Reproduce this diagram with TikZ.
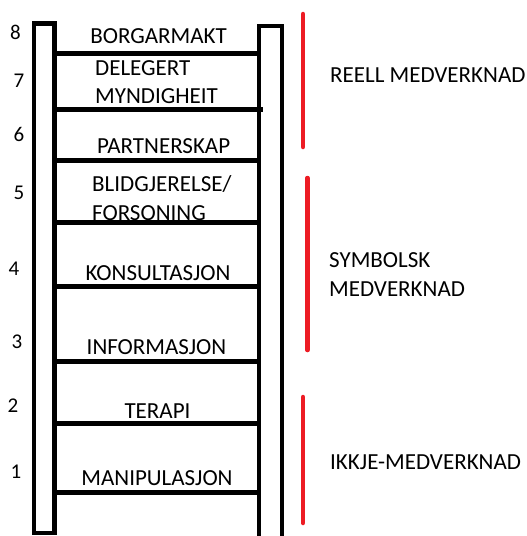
\documentclass[tikz,border=0pt]{standalone}
\usepackage{fontspec}
\setmainfont{Carlito}
\definecolor{ladderred}{RGB}{237,28,36}
\begin{document}
\begin{tikzpicture}[x=1pt,y=-1pt,
  rail/.style={line width=4.8pt, line join=miter},
  rung/.style={line width=5pt},
  redbar/.style={draw=ladderred, line width=4.5pt, line cap=round},
  lbl/.style={font=\fontsize{23}{27}\selectfont, inner sep=0pt, anchor=base},
  lblw/.style={font=\fontsize{23}{27}\selectfont, inner sep=0pt, anchor=base west},
  num/.style={font=\fontsize{21}{25}\selectfont, inner sep=0pt, anchor=base}]
\useasboundingbox (0,0) rectangle (527,536);
% rails
\draw[rail] (34,23.5) rectangle (54.5,533);
\draw[rail] (259,545) -- (259,26) -- (282,26) -- (282,545);
% rungs
\foreach \y in {53.5,160.5,222,286.5,361,423,492.5}
  \draw[rung] (56.8,\y) -- (256.6,\y);
\draw[rung] (56.8,109) -- (262.5,109);
% rung labels
\node[lbl]  (borgar) at (158.5,43) {BORGARMAKT};
\node[lblw] (deleg)  at (95,75)    {DELEGERT};
\node[lblw] (mynd)   at (95,103)   {MYNDIGHEIT};
\node[lblw] (partn)  at (97,153)   {PARTNERSKAP};
\node[lblw] (blid)   at (92,191)   {BLIDGJERELSE/};
\node[lblw] (fors)   at (92,220)   {FORSONING};
\node[lbl]  (kons)   at (158,280)  {KONSULTASJON};
\node[lbl]  (info)   at (156.5,354) {INFORMASJON};
\node[lbl]  (terapi) at (157.5,418) {TERAPI};
\node[lbl]  (manip)  at (157,485)  {MANIPULASJON};
% numbers
\node[num] (n8) at (15.5,39) {8};
\node[num] (n7) at (19,87)   {7};
\node[num] (n6) at (19,141)  {6};
\node[num] (n5) at (19,199)  {5};
\node[num] (n4) at (14,275)  {4};
\node[num] (n3) at (17,348)  {3};
\node[num] (n2) at (13,412)  {2};
\node[num] (n1) at (16,478)  {1};
% red brackets
\draw[redbar] (303,14) -- (303,147);
\draw[redbar] (307.5,178) -- (307.5,350);
\draw[redbar] (303,397) -- (303,523);
% group labels
\node[lblw] (reell) at (330,82)  {REELL MEDVERKNAD};
\node[lblw] (symb)  at (329,267) {SYMBOLSK};
\node[lblw] (symb2) at (329,296) {MEDVERKNAD};
\node[lblw] (ikkje) at (330,469) {IKKJE-MEDVERKNAD};
\end{tikzpicture}
\end{document}
